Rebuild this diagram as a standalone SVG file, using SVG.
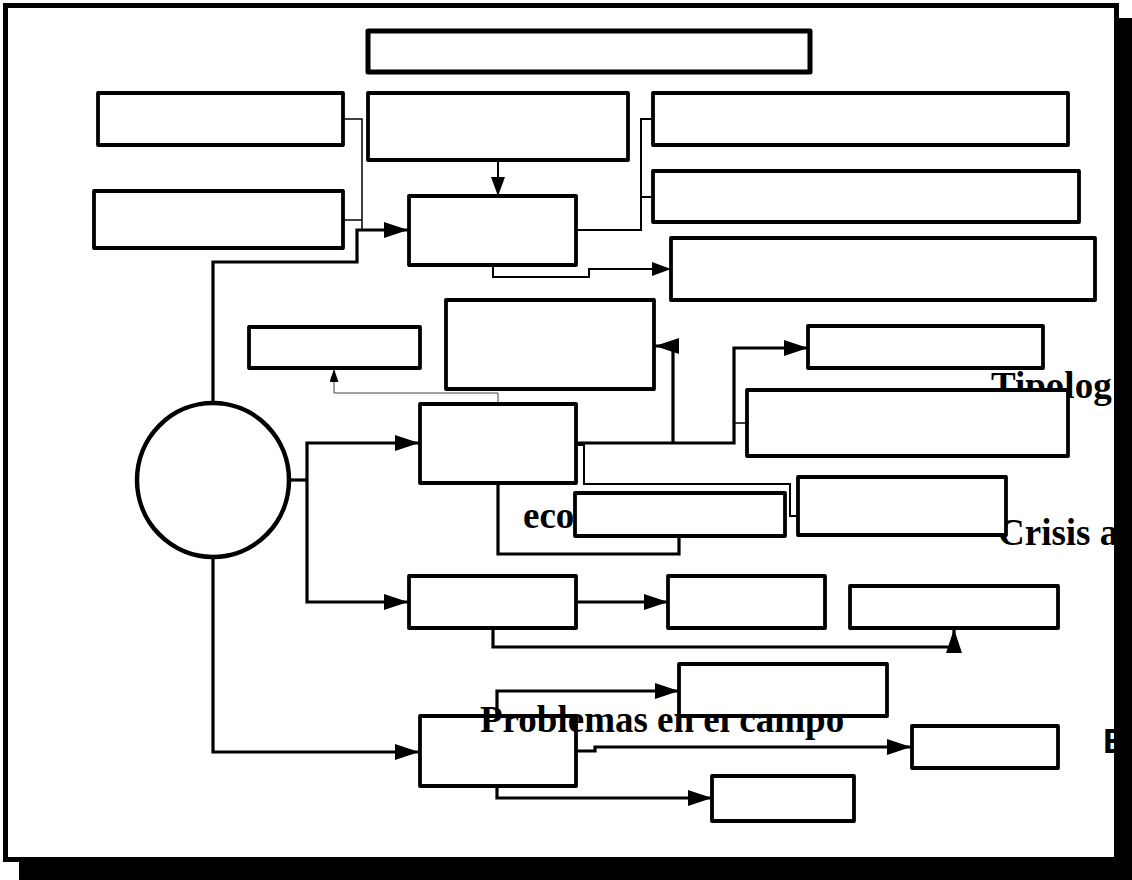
<svg xmlns="http://www.w3.org/2000/svg" width="1132" height="880" viewBox="0 0 1132 880">
<style>
.box{fill:#fff;stroke:#000;stroke-width:3.8;stroke-linejoin:round}
.title{fill:#fff;stroke:#000;stroke-width:5;stroke-linejoin:round}
.c{fill:none;stroke:#000;stroke-linejoin:miter}
.thick{stroke-width:3.2}
.med{stroke-width:2}
.thin{stroke-width:1.5}
.gray{stroke:#444;stroke-width:1}
.lbl{font-family:"Liberation Serif","Times New Roman",serif;font-weight:bold;font-size:37px;fill:#000}
.lbls{font-family:"Liberation Sans",Arial,sans-serif;font-weight:bold;font-size:35px;fill:#000}
</style>
<defs>
<marker id="aL" markerUnits="userSpaceOnUse" markerWidth="24" markerHeight="16" refX="24" refY="8" orient="auto"><path d="M0,0 L24,8 L0,16 z" fill="#000"/></marker>
<marker id="aM" markerUnits="userSpaceOnUse" markerWidth="19" markerHeight="14" refX="19" refY="7" orient="auto"><path d="M0,0 L19,7 L0,14 z" fill="#000"/></marker>
<marker id="aS" markerUnits="userSpaceOnUse" markerWidth="13" markerHeight="9" refX="13" refY="4.5" orient="auto"><path d="M0,0 L13,4.5 L0,9 z" fill="#000"/></marker>
<clipPath id="inner"><rect x="0" y="0" width="1117" height="858"/></clipPath>
</defs>

<g id="frame">
<rect x="19" y="18" width="1120" height="870" fill="#000"/>
<rect x="5.5" y="5.5" width="1111" height="854" fill="#fff" stroke="#000" stroke-width="5"/>
</g>

<g id="connectors">
<path class="c thin" d="M343,119 H362 V230"/>
<path class="c thin" d="M343,220 H362"/>
<path class="c thick" d="M213,403 V262 H357 V230 H408" marker-end="url(#aL)"/>
<path class="c med" d="M498,160 V196" marker-end="url(#aM)"/>
<path class="c med" d="M576,230 H641 V119 H653"/>
<path class="c med" d="M641,197 H653"/>
<path class="c med" d="M493,265 V277 H589 V269 H671" marker-end="url(#aM)"/>
<path class="c gray" d="M498,404 V393 H334 V369" marker-end="url(#aS)"/>
<path class="c thick" d="M576,443 H734 V348 H808" marker-end="url(#aL)"/>
<path class="c thick" d="M673,443 V346 H655" marker-end="url(#aL)"/>
<path class="c thin" d="M734,423 H747"/>
<path class="c med" d="M576,445 H584 V484 H790 V516 H798"/>
<path class="c thick" d="M498,483 V554 H679 V536"/>
<path class="c thick" d="M289,480 H307"/>
<path class="c thick" d="M307,480 V443 H419" marker-end="url(#aL)"/>
<path class="c thick" d="M307,480 V602 H408" marker-end="url(#aL)"/>
<path class="c thick" d="M213,557 V752 H419" marker-end="url(#aL)"/>
<path class="c thick" d="M576,602 H668" marker-end="url(#aL)"/>
<path class="c thick" d="M493,628 V647 H954 V629" marker-end="url(#aL)"/>
<path class="c thick" d="M497,716 V691 H679" marker-end="url(#aL)"/>
<path class="c thick" d="M576,751 H595 V747 H911" marker-end="url(#aL)"/>
<path class="c thick" d="M497,786 V798 H712" marker-end="url(#aL)"/>
</g>

<g id="n-title"><rect class="title" x="368" y="31" width="442" height="41"/></g>
<g id="n-left1"><rect class="box" x="98" y="93" width="245" height="52"/></g>
<g id="n-center-top"><rect class="box" x="368" y="93" width="260" height="67"/></g>
<g id="n-right1"><rect class="box" x="653" y="93" width="415" height="52"/></g>
<g id="n-left2"><rect class="box" x="94" y="191" width="249" height="57"/></g>
<g id="n-hub1"><rect class="box" x="409" y="196" width="167" height="69"/></g>
<g id="n-right2"><rect class="box" x="653" y="171" width="426" height="51"/></g>
<g id="n-right3"><rect class="box" x="671" y="238" width="424" height="62"/></g>
<g id="n-small"><rect class="box" x="249" y="327" width="171" height="41"/></g>
<g id="n-mid"><rect class="box" x="446" y="300" width="208" height="89"/></g>
<g id="n-hub2"><rect class="box" x="420" y="404" width="156" height="79"/></g>
<g id="n-hub3"><rect class="box" x="409" y="576" width="167" height="52"/></g>
<g id="n-b17"><rect class="box" x="668" y="576" width="157" height="52"/></g>
<g id="n-b18"><rect class="box" x="850" y="586" width="208" height="42"/></g>
<g id="n-hub4"><rect class="box" x="420" y="716" width="156" height="70"/></g>
<g id="n-b21"><rect class="box" x="912" y="726" width="146" height="42"/></g>
<g id="n-b22"><rect class="box" x="712" y="776" width="142" height="45"/></g>
<g id="n-circle"><ellipse cx="213" cy="480" rx="76" ry="77" fill="#fff" stroke="#000" stroke-width="4.5"/></g>

<g id="labels" clip-path="url(#inner)">
<text id="t-tipolog" class="lbl" x="991" y="398" font-size="38">Tipolog</text>
<text id="t-crisis" class="lbl" x="998" y="545">Crisis a</text>
<text id="t-e" class="lbls" x="1103" y="753">E</text>
<text id="t-problemas" class="lbl" x="480" y="732">Problemas en el campo</text>
<text id="t-eco" class="lbl" x="523" y="528">eco</text>
</g>

<g id="n-ra"><rect class="box" x="808" y="326" width="235" height="42"/></g>
<g id="n-rb"><rect class="box" x="747" y="390" width="321" height="66"/></g>
<g id="n-eco"><rect class="box" x="575" y="493" width="210" height="43"/></g>
<g id="n-crisis"><rect class="box" x="798" y="477" width="208" height="58"/></g>
<g id="n-b19"><rect class="box" x="679" y="664" width="208" height="52"/></g>
</svg>
